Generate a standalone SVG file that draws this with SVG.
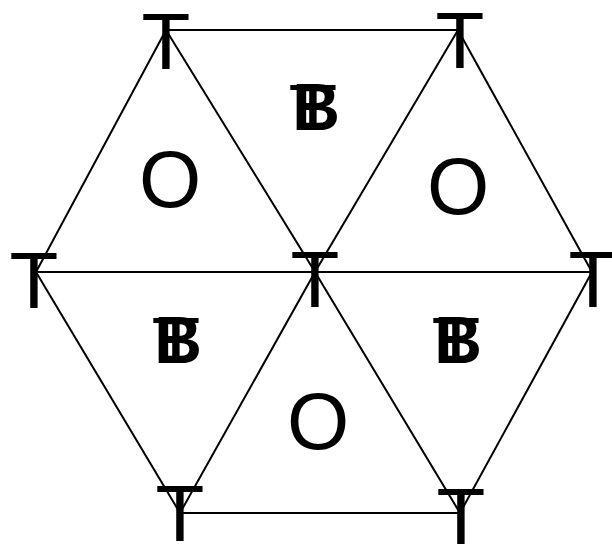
<svg xmlns="http://www.w3.org/2000/svg" width="612" height="544" viewBox="0 0 612 544">
<style>
.e{stroke:#000;stroke-width:2;fill:none}
.v{font-family:"Liberation Sans",Arial,sans-serif;font-size:80px;text-anchor:middle;fill:#000}
.o{font-family:"Liberation Sans",Arial,sans-serif;font-size:80px;text-anchor:middle;fill:#000}
.b{font-family:"Liberation Sans",Arial,sans-serif;font-size:66px;font-weight:bold;text-anchor:middle;fill:#000}
.t{font-family:"Liberation Sans",Arial,sans-serif;font-size:64px;text-anchor:middle;fill:#000}
</style>
<rect width="612" height="544" fill="#fff"/>
<g id="connectors">
<line class="e" x1="166" y1="30" x2="458" y2="30"/>
<line class="e" x1="166" y1="30" x2="36" y2="272"/>
<line class="e" x1="166" y1="30" x2="315" y2="272"/>
<line class="e" x1="458" y1="30" x2="315" y2="272"/>
<line class="e" x1="458" y1="30" x2="592" y2="272"/>
<line class="e" x1="36" y1="272" x2="592" y2="272"/>
<line class="e" x1="36" y1="272" x2="180" y2="513"/>
<line class="e" x1="315" y1="272" x2="180" y2="513"/>
<line class="e" x1="315" y1="272" x2="460" y2="513"/>
<line class="e" x1="592" y1="272" x2="460" y2="513"/>
<line class="e" x1="180" y1="513" x2="460" y2="513"/>
</g>
<g id="v1"><text class="v" x="166" y="69">T</text></g>
<g id="v2"><text class="v" x="460" y="68">T</text></g>
<g id="v3"><text class="v" x="34" y="308">T</text></g>
<g id="v4"><text class="v" x="315" y="307">T</text></g>
<g id="v5"><text class="v" x="593" y="307">T</text></g>
<g id="v6"><text class="v" x="180" y="541">T</text></g>
<g id="v7"><text class="v" x="461" y="544">T</text></g>
<g id="f1"><text class="o" x="170" y="207">O</text></g>
<g id="f2"><text class="o" x="458" y="214">O</text></g>
<g id="f3"><text class="o" x="318" y="449">O</text></g>
<g id="f4"><text class="t" transform="translate(313,130) scale(1.25,1)">T</text><text class="b" x="316" y="130">B</text></g>
<g id="f5"><text class="t" transform="translate(176,363) scale(1.25,1)">T</text><text class="b" x="178" y="363">B</text></g>
<g id="f6"><text class="t" transform="translate(456,363) scale(1.25,1)">T</text><text class="b" x="458" y="363">B</text></g>
</svg>
